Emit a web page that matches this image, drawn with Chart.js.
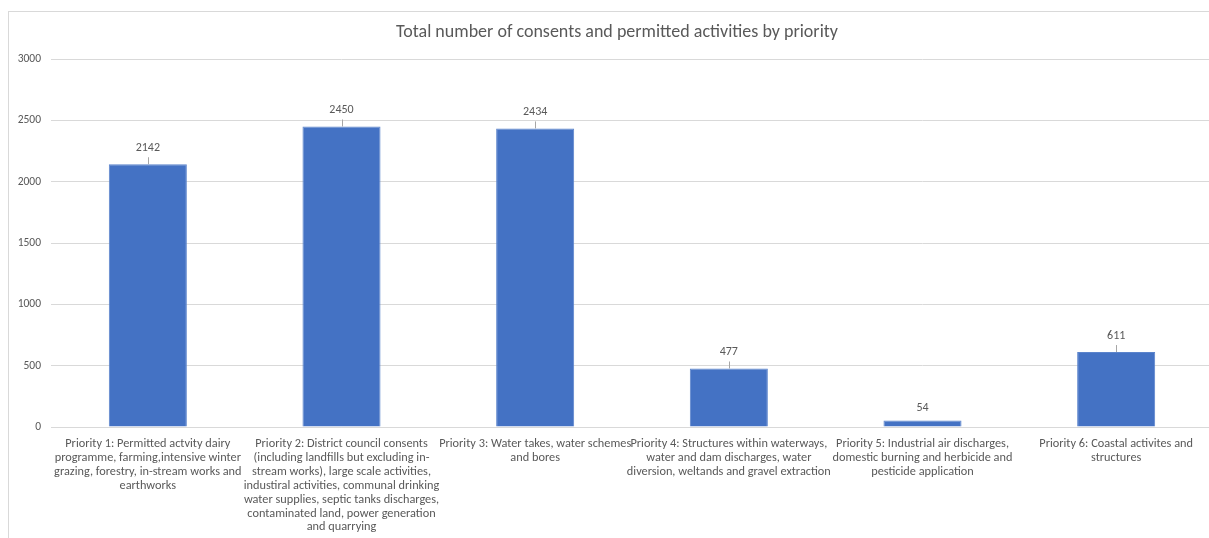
<!DOCTYPE html>
<html>
<head>
<meta charset="utf-8">
<script src="https://cdn.jsdelivr.net/npm/chart.js@4"></script>
<style>
  html, body { margin: 0; padding: 0; background: #fff; overflow: hidden; }
  #wrap { width: 1209px; height: 538px; overflow: hidden; }
</style>
</head>
<body>
<div id="wrap"><canvas id="myChart" width="1214" height="538"></canvas></div>
<script>
const categories = [
  ['Priority 1: Permitted actvity dairy', 'programme, farming,intensive winter', 'grazing, forestry, in-stream works and', 'earthworks'],
  ['Priority 2: District council consents', '(including landfills but excluding in-', 'stream works), large scale activities,', 'industiral activities, communal drinking', 'water supplies, septic tanks discharges,', 'contaminated land, power generation', 'and quarrying'],
  ['Priority 3: Water takes, water schemes', 'and bores'],
  ['Priority 4: Structures within waterways,', 'water and dam discharges, water', 'diversion, weltands and gravel extraction'],
  ['Priority 5: Industrial air discharges,', 'domestic burning and herbicide and', 'pesticide application'],
  ['Priority 6: Coastal activites and', 'structures']
];
const counts = [2142, 2450, 2434, 477, 54, 611];
const yTicks = [0, 500, 1000, 1500, 2000, 2500, 3000];
const titleText = 'Total number of consents and permitted activities by priority';

const fontFam = "Carlito, Calibri, 'Liberation Sans Narrow', 'Liberation Sans', sans-serif";
const grey = '#595959';

// cadre + titre + etiquettes de valeur
const decor = {
  id: 'decor',
  beforeDraw(chart) {
    const c = chart.ctx;
    c.save();
    c.strokeStyle = '#d9d9d9';
    c.lineWidth = 1;
    c.strokeRect(8.5, 11.5, 1400, 700);
    c.fillStyle = grey;
    c.font = '18px ' + fontFam;
    c.textAlign = 'center';
    c.textBaseline = 'middle';
    c.fillText(titleText, 617, 32);
    c.restore();
  },
  afterDatasetsDraw(chart) {
    const c = chart.ctx;
    const meta = chart.getDatasetMeta(0);
    c.save();
    c.font = '12px ' + fontFam;
    c.fillStyle = grey;
    c.textAlign = 'center';
    c.textBaseline = 'middle';
    meta.data.forEach(function(bar, i) {
      const x = bar.x, top = bar.y;
      const gap = counts[i] < 100 ? 12 : 16;
      c.fillText(String(counts[i]), x, top - gap);
      if (counts[i] >= 100) {
        c.strokeStyle = '#a6a6a6';
        c.lineWidth = 1;
        c.beginPath();
        c.moveTo(Math.round(x) + 0.5, top);
        c.lineTo(Math.round(x) + 0.5, top - 7);
        c.stroke();
      }
    });
    c.restore();
  }
};

const ctx = document.getElementById('myChart');
new Chart(ctx, {
  type: 'bar',
  data: {
    labels: categories,
    datasets: [{
      label: 'Total',
      data: counts,
      backgroundColor: '#4472C4',
      borderColor: '#5b84cc',
      borderWidth: 1,
      categoryPercentage: 1,
      barPercentage: 0.403
    }]
  },
  options: {
    responsive: false,
    animation: false,
    layout: { padding: { top: 59, left: 0, right: 1, bottom: 0 } },
    plugins: {
      legend: { display: false },
      tooltip: { enabled: false },
      title: { display: false }
    },
    scales: {
      x: {
        grid: { display: false, drawTicks: false },
        border: { display: true, color: '#d9d9d9' },
        ticks: {
          autoSkip: false,
          maxRotation: 0,
          minRotation: 0,
          padding: 10,
          color: grey,
          font: { family: fontFam, size: 12.3, lineHeight: 1.13 }
        },
        afterFit(scale) { scale.height = 111; }
      },
      y: {
        min: 0,
        max: 3000,
        afterBuildTicks(scale) { scale.ticks = yTicks.map(v => ({ value: v })); },
        grid: { color: '#d9d9d9', drawTicks: false },
        border: { display: false },
        ticks: {
          padding: 10,
          color: grey,
          font: { family: fontFam, size: 11.5 },
          callback: v => String(v)
        },
        afterFit(scale) { scale.width = 51; }
      }
    }
  },
  plugins: [decor]
});
</script>
</body>
</html>
